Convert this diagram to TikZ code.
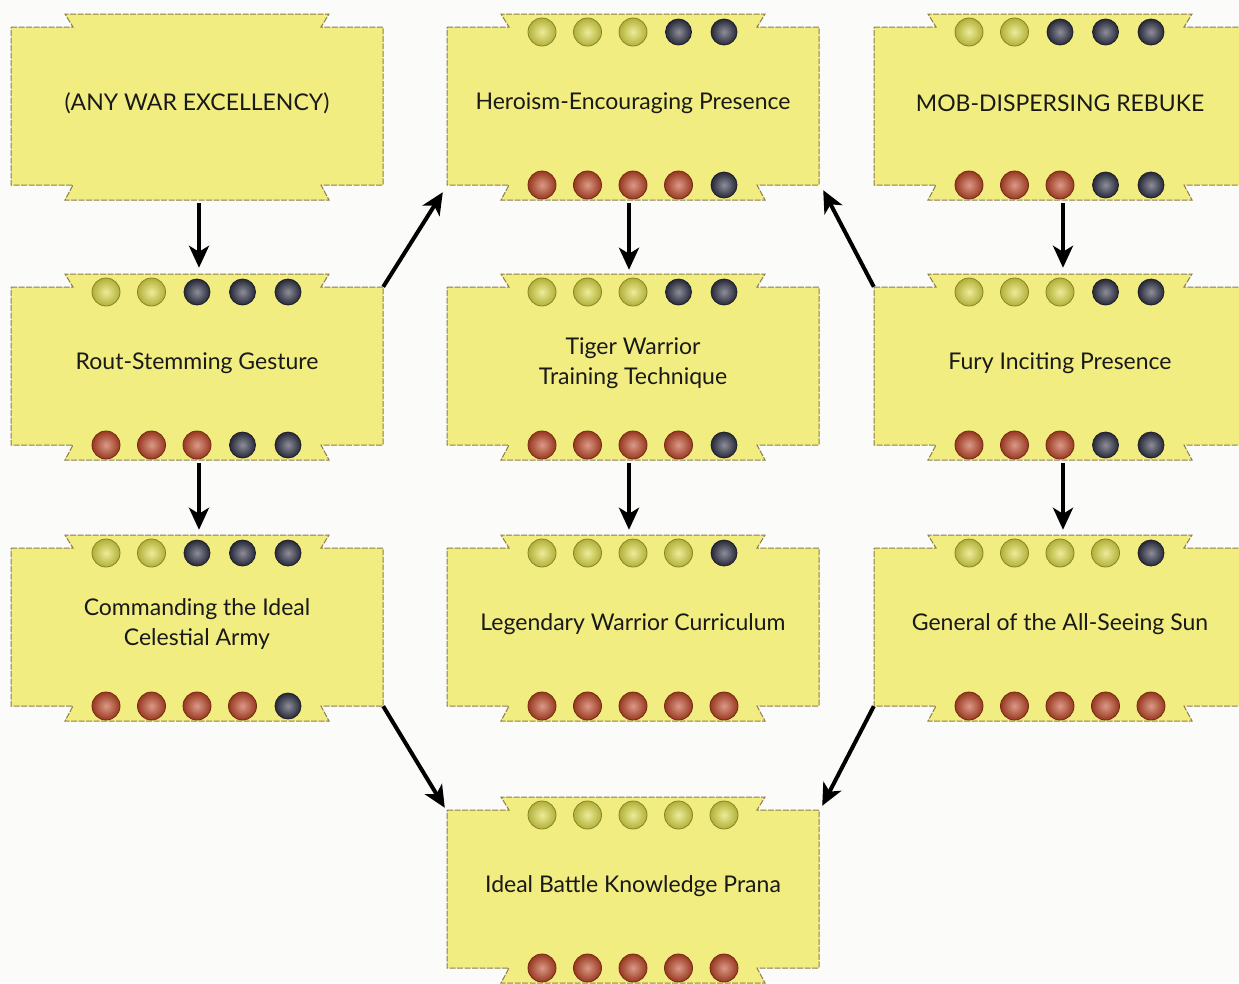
\documentclass[tikz,border=0pt]{standalone}
\usepackage{fontspec}
\setmainfont{Lato}
\usetikzlibrary{arrows.meta}

\definecolor{boxfill}{RGB}{241,237,128}
\definecolor{boxline}{RGB}{140,125,75}
\definecolor{ydot}{RGB}{222,220,70}
\definecolor{rdot}{RGB}{190,70,38}
\definecolor{ddot}{RGB}{48,50,70}
\definecolor{bgc}{RGB}{251,251,250}

\tikzset{
  boxnode/.style={minimum width=372pt, minimum height=158pt, inner sep=0pt},
  boxtext/.style={align=center, font=\fontsize{23}{30}\selectfont, text=black!90, inner sep=0pt},
  boxshape/.style={fill=boxfill, draw=boxline, line width=1pt, dash pattern=on 6pt off 1.5pt},
  arr/.style={line width=4pt, -{Stealth[length=22pt,width=20pt,inset=6pt]}},
}

\newcommand\tabbox[4]{% #1 name, #2 left, #3 top, #4 text
  \path[boxshape] (#2,#3) -- ({#2+62},#3) -- ({#2+54},{#3-13}) -- ({#2+318},{#3-13})
    -- ({#2+310},#3) -- ({#2+372},#3) -- ({#2+372},{#3+158}) -- ({#2+310},{#3+158})
    -- ({#2+318},{#3+173}) -- ({#2+54},{#3+173}) -- ({#2+62},{#3+158}) -- (#2,{#3+158}) -- cycle;
  \node[boxnode] (#1) at ({#2+186},{#3+79}) {};
  \node[boxtext] (#1-t) at ([yshift=3pt]#1.center) {#4};
}

\newcommand\dotrow[4]{% #1 left, #2 y, #3 number coloured, #4 colour
  \foreach \i in {1,...,5}{%
    \ifnum\i>#3\relax\def\dc{ddot}\def\dr{13}\else\def\dc{#4}\def\dr{14}\fi
    \shade[inner color=\dc!55!white, outer color=\dc!80!black] ({#1+186+(\i-3)*45.5},#2) circle (\dr pt);
    \draw[\dc!60!black, line width=0.8pt] ({#1+186+(\i-3)*45.5},#2) circle (\dr pt);
  }%
}

\newcommand\gemdots[4]{% #1 left, #2 top, #3 yellow count, #4 red count
  \dotrow{#1}{#2+5}{#3}{ydot}
  \dotrow{#1}{#2+158}{#4}{rdot}
}

\begin{document}
\begin{tikzpicture}[x=1pt,y=-1pt]
  \useasboundingbox (0,0) rectangle (1239,983);
  \fill[bgc] (0,0) rectangle (1239,983);
  \clip (0,0) rectangle (1239,983);

  % row 1
  \tabbox{anyw}{11}{27}{(ANY WAR EXCELLENCY)}
  \tabbox{hero}{447}{27}{Heroism-Encouraging Presence}
  \gemdots{447}{27}{3}{4}
  \tabbox{mob}{874}{27}{MOB-DISPERSING REBUKE}
  \gemdots{874}{27}{2}{3}

  % row 2
  \tabbox{rout}{11}{287}{Rout-Stemming Gesture}
  \gemdots{11}{287}{2}{3}
  \tabbox{tiger}{447}{287}{Tiger Warrior\\Training Technique}
  \gemdots{447}{287}{3}{4}
  \tabbox{fury}{874}{287}{Fury Inciting Presence}
  \gemdots{874}{287}{3}{3}

  % row 3
  \tabbox{cmd}{11}{548}{Commanding the Ideal\\Celestial Army}
  \gemdots{11}{548}{2}{4}
  \tabbox{leg}{447}{548}{Legendary Warrior Curriculum}
  \gemdots{447}{548}{4}{5}
  \tabbox{gen}{874}{548}{General of the All-Seeing Sun}
  \gemdots{874}{548}{4}{5}

  % row 4
  \tabbox{ideal}{447}{810}{Ideal Battle Knowledge Prana}
  \gemdots{447}{810}{5}{5}

  % connectors
  \draw[arr] ([xshift=2pt,yshift=-18pt]anyw.south) -- ([xshift=2pt,yshift=19pt]rout.north);
  \draw[arr] ([xshift=2pt,yshift=-18pt]rout.south) -- ([xshift=2pt,yshift=18pt]cmd.north);
  \draw[arr] ([xshift=-4pt,yshift=-18pt]hero.south) -- ([xshift=-4pt,yshift=17pt]tiger.north);
  \draw[arr] ([xshift=-4pt,yshift=-18pt]tiger.south) -- ([xshift=-4pt,yshift=18pt]leg.north);
  \draw[arr] ([xshift=3pt,yshift=-18pt]mob.south) -- ([xshift=3pt,yshift=19pt]fury.north);
  \draw[arr] ([xshift=3pt,yshift=-18pt]fury.south) -- ([xshift=3pt,yshift=18pt]gen.north);
  \draw[arr] (rout.north east) -- ([xshift=-4pt,yshift=-7pt]hero.south west);
  \draw[arr] (fury.north west) -- ([xshift=4pt,yshift=-5pt]hero.south east);
  \draw[arr] (cmd.south east) -- ([xshift=-2pt,yshift=2pt]ideal.north west);
  \draw[arr] (gen.south west) -- ([xshift=3pt,yshift=4pt]ideal.north east);
\end{tikzpicture}
\end{document}
